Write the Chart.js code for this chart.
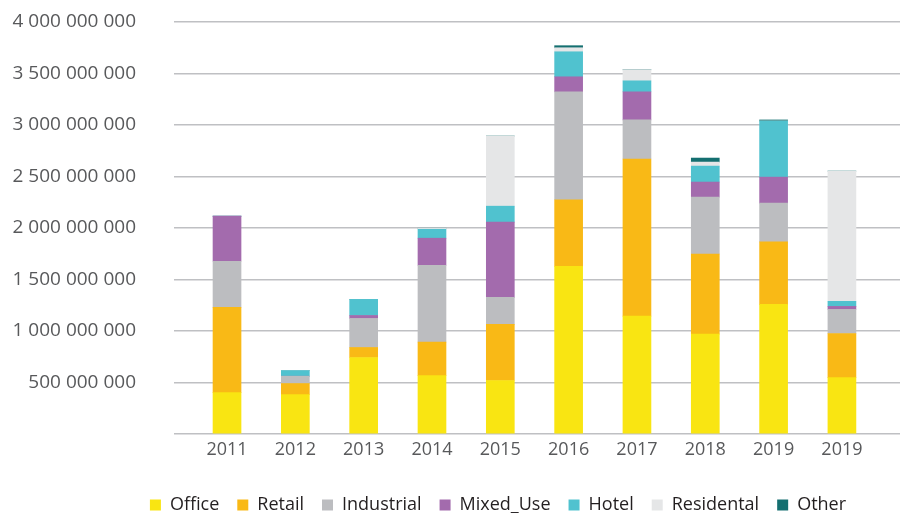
<!DOCTYPE html>
<html>
<head>
<meta charset="utf-8">
<script src="https://cdn.jsdelivr.net/npm/chart.js@4/dist/chart.umd.min.js"></script>
<style>
    html, body { margin: 0; padding: 0; background: #fff; }
    #wrap { width: 904px; height: 513px; position: relative; }
</style>
</head>
<body>
<div id="wrap"><canvas id="chart"></canvas></div>
<script>
// investment volume per year, in millions
const years = ['2011', '2012', '2013', '2014', '2015', '2016', '2017', '2018', '2019', '2019'];
const office      = [402, 382, 743, 567, 519, 1628, 1145, 970, 1258, 548];
const retail      = [827, 108,  97, 325, 545,  646, 1525, 778,  607, 428];
const industrial  = [448,  71, 282, 746, 263, 1048,  379, 552,  376, 234];
const mixedUse    = [438,   0,  29, 263, 730,  146,  273, 146,  253,  29];
const hotel       = [  0,  55, 156,  87, 155,  243,  107, 155,  545,  49];
const residential = [  0,   0,   0,  10, 681,   39,  107,  39,    0, 1265];
const other       = [  0,   0,   0,   0,   0,   20,    0,  39,   10,   0];

const yTicks = [0, 500e6, 1000e6, 1500e6, 2000e6, 2500e6, 3000e6, 3500e6, 4000e6];

const series = [
    ['Office', office, '#f9e512'],
    ['Retail', retail, '#f9b916'],
    ['Industrial', industrial, '#bcbdc0'],
    ['Mixed_Use', mixedUse, '#a36bad'],
    ['Hotel', hotel, '#50c2cf'],
    ['Residental', residential, '#e5e6e7'],
    ['Other', other, '#146f70']
];

function spaced(v) {
    return String(v).replace(/\B(?=(\d{3})+(?!\d))/g, ' ');
}

// legend sits a bit right of center, just under the axis labels
const legendSpot = {
    id: 'legendSpot',
    afterLayout(chart) {
        const lg = chart.legend;
        const dx = 42, dy = 11;
        lg.left += dx; lg.right += dx;
        lg.top += dy; lg.bottom += dy;
    }
};

const font = { family: 'Open Sans', size: 18 };

new Chart(document.getElementById('chart'), {
    type: 'bar',
    data: {
        datasets: series.map(([name, vals, color]) => ({
            label: name,
            data: vals.map((v, i) => ({ x: i, y: v * 1e6 })),
            backgroundColor: color,
            borderWidth: 0,
            barThickness: 28
        }))
    },
    options: {
        responsive: true,
        maintainAspectRatio: false,
        animation: false,
        layout: { padding: { left: 12, right: 4, top: 22, bottom: 0 } },
        plugins: {
            tooltip: { enabled: false },
            legend: {
                position: 'bottom',
                labels: {
                    boxWidth: 11,
                    boxHeight: 11,
                    padding: 18,
                    color: '#231f20',
                    font: font
                }
            }
        },
        scales: {
            x: {
                type: 'linear',
                stacked: true,
                offset: false,
                min: -0.776,
                max: 9.85,
                afterFit: s => { s.height = 33; },
                grid: { display: false, drawTicks: false },
                border: { display: false },
                ticks: {
                    stepSize: 1,
                    includeBounds: false,
                    autoSkip: false,
                    maxRotation: 0,
                    color: '#58595b',
                    font: font,
                    padding: 5,
                    callback: v => Number.isInteger(v) ? years[v] : ''
                }
            },
            y: {
                stacked: true,
                min: 0,
                max: 4000e6,
                afterFit: s => { s.width = 162; s.paddingTop = 0; s.paddingBottom = 0; },
                afterBuildTicks: s => { s.ticks = yTicks.map(v => ({ value: v })); },
                grid: { color: '#bfc0c3', lineWidth: 1.5, drawTicks: false },
                border: { display: false },
                ticks: {
                    color: '#58595b',
                    font: { family: 'Open Sans', size: 19 },
                    padding: 38,
                    callback: v => v === 0 ? '' : spaced(v)
                }
            }
        }
    },
    plugins: [legendSpot]
});
</script>
</body>
</html>
